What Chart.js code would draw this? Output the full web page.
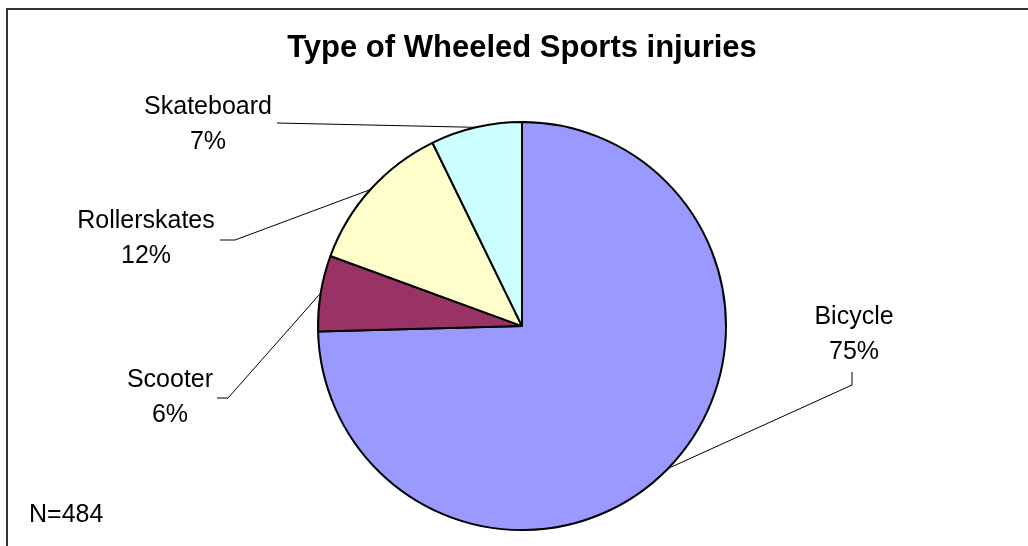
<!DOCTYPE html>
<html>
<head>
<meta charset="utf-8">
<script src="https://cdn.jsdelivr.net/npm/chart.js@4"></script>
<style>
  html, body { margin: 0; padding: 0; background: #fff; }
  #wrap { width: 1028px; height: 546px; }
</style>
</head>
<body>
<div id="wrap"><canvas id="chart" width="1028" height="546"></canvas></div>
<script>
// Data (counts, N = 484)
const categories = ['Bicycle', 'Scooter', 'Rollerskates', 'Skateboard'];
const injuries = [361, 29, 59, 35];
const sliceColors = ['#9999FF', '#993366', '#FFFFCC', '#CCFFFF'];
const chartTitle = 'Type of Wheeled Sports injuries';

// Label layout: [centre x, first baseline y] and leader elbow points
const labelAt = [[854, 324], [170, 387], [146, 228], [208, 114]];
const leaderFrom = [[[852, 372], [852, 385]], [[217, 398], [228, 398]], [[220, 240], [235, 240]], [[277, 123], [277, 123]]];

const FONT = 'Arial, "Liberation Sans", sans-serif';
const total = injuries.reduce((a, b) => a + b, 0);

// Frame, slice labels with leader lines, and the N note
const decorations = {
  id: 'decorations',
  beforeDraw(chart) {
    const ctx = chart.ctx;
    ctx.save();
    ctx.strokeStyle = '#333';
    ctx.lineWidth = 2;
    ctx.strokeRect(7, 9, 1040, 560);
    ctx.restore();
  },
  afterDraw(chart) {
    const ctx = chart.ctx;
    const arcs = chart.getDatasetMeta(0).data;
    ctx.save();
    ctx.strokeStyle = '#000';
    ctx.lineWidth = 1;
    ctx.fillStyle = '#000';
    ctx.font = '25px ' + FONT;
    ctx.textAlign = 'center';
    ctx.textBaseline = 'alphabetic';
    arcs.forEach((arc, i) => {
      const p = arc.getProps(['x', 'y', 'startAngle', 'endAngle', 'outerRadius'], true);
      const mid = (p.startAngle + p.endAngle) / 2;
      const ex = p.x + Math.cos(mid) * p.outerRadius;
      const ey = p.y + Math.sin(mid) * p.outerRadius;
      const [a, b] = leaderFrom[i];
      ctx.beginPath();
      ctx.moveTo(a[0], a[1]);
      ctx.lineTo(b[0], b[1]);
      ctx.lineTo(ex, ey);
      ctx.stroke();
      const pct = Math.round(injuries[i] / total * 100);
      ctx.fillText(categories[i], labelAt[i][0], labelAt[i][1]);
      ctx.fillText(pct + '%', labelAt[i][0], labelAt[i][1] + 35);
    });
    ctx.textAlign = 'left';
    ctx.fillText('N=' + total, 29, 522);
    ctx.restore();
  }
};

const chart = new Chart(document.getElementById('chart'), {
  type: 'pie',
  data: {
    labels: categories,
    datasets: [{
      data: injuries,
      backgroundColor: sliceColors,
      borderColor: '#000',
      borderWidth: 2,
      radius: 204
    }]
  },
  options: {
    responsive: false,
    animation: false,
    layout: { padding: { left: 16, right: 0, top: 0, bottom: 0 } },
    plugins: {
      legend: { display: false },
      tooltip: { enabled: false },
      title: {
        display: true,
        text: chartTitle,
        color: '#000',
        font: { family: FONT, size: 31, weight: 'bold', lineHeight: 1.2 },
        padding: { top: 30, bottom: 39 }
      }
    }
  },
  plugins: [decorations]
});
</script>
</body>
</html>
